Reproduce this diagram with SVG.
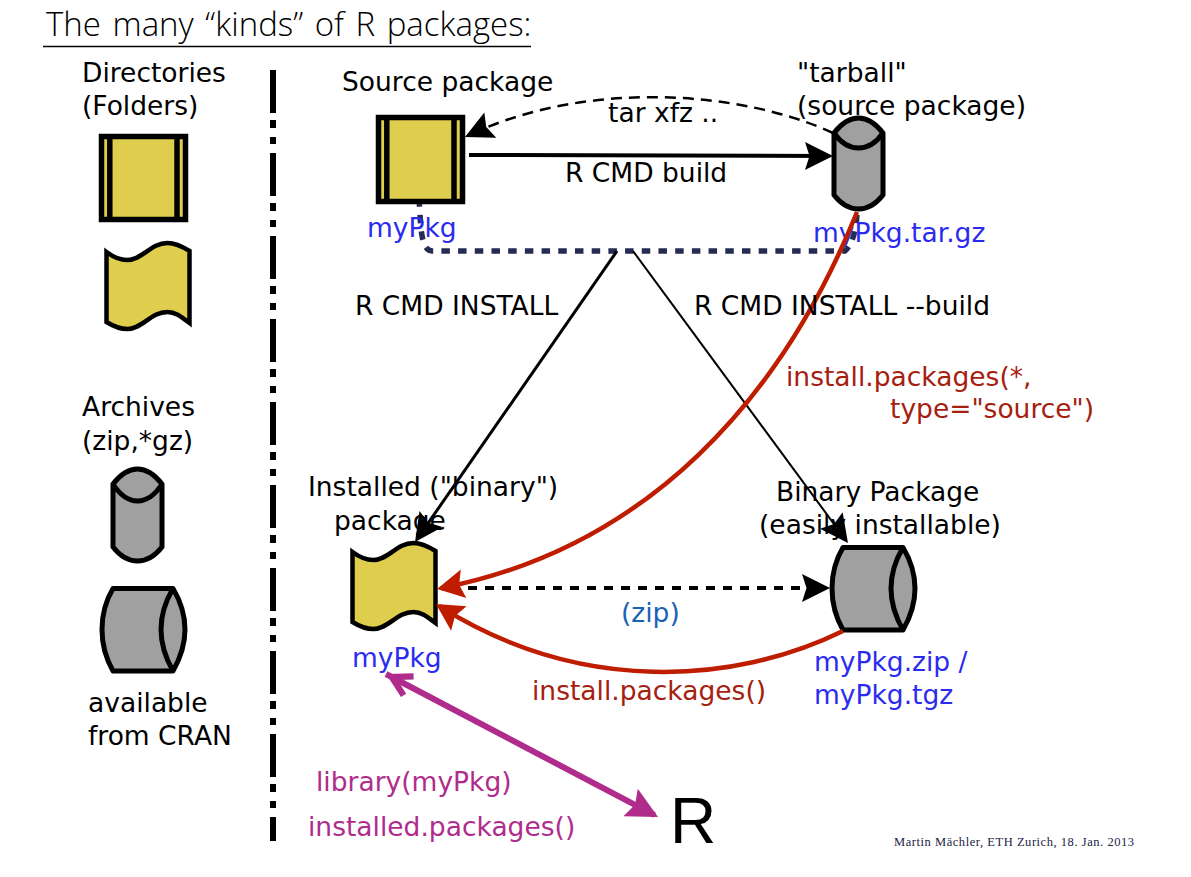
<svg xmlns="http://www.w3.org/2000/svg" width="1191" height="877" viewBox="0 0 1191 877">
<style>
text{font-family:"DejaVu Sans",sans-serif;font-size:26.5px;fill:#000}
.title{font-family:"Open Sans","Liberation Sans",sans-serif;font-weight:300;font-size:33px;word-spacing:3px}
.foot{font-family:"Liberation Serif",serif;font-size:12.5px;fill:#222244}
.blue{fill:#2b2bef}.red{fill:#a5200f}.pur{fill:#b02c8c}.zip{fill:#1a62b8}
.y{fill:#dfce4e;stroke:#000}
.g{fill:#a0a0a0;stroke:#000;stroke-width:5;stroke-linejoin:round}
</style>
<defs>
<marker id="ak" markerUnits="userSpaceOnUse" markerWidth="44" markerHeight="44" refX="34" refY="22" orient="auto"><path d="M38,22L10,8L14.500,22L10,36z" fill="#000"/></marker>
<marker id="ar" markerUnits="userSpaceOnUse" markerWidth="44" markerHeight="44" refX="34" refY="22" orient="auto"><path d="M38,22L11,7.500L15.500,22L11,36.500z" fill="#bf1d00"/></marker>
<marker id="ap" markerUnits="userSpaceOnUse" markerWidth="44" markerHeight="44" refX="34" refY="22" orient="auto"><path d="M38,22L7,6.500L12,22L7,37.500z" fill="#b02c8c"/></marker>
<marker id="apr" markerUnits="userSpaceOnUse" markerWidth="44" markerHeight="44" refX="4" refY="22" orient="auto"><path d="M4,22L28,8.500L31,14L17,22L31,30L28,35.500z" fill="#b02c8c"/></marker>
<path id="wave" d="M0,11C8,17 14,19 21,19C36,19 44,2 61,2C69,2 75,5 83,10V82C75,76 69,71 61,71C44,71 36,88 21,88C14,88 8,86 0,81z"/>
</defs>

<text class="title" x="46" y="36">The many “kinds” of R packages:</text>
<line x1="43" y1="46.500" x2="531" y2="46.500" stroke="#000" stroke-width="1.500"/>
<line x1="273" y1="70" x2="273" y2="841" stroke="#000" stroke-width="6" stroke-dasharray="43 7 8 9 7 9"/>

<g id="connectors" fill="none">
<path d="M419,198C421,225 420,250 432,251H845C852,245 857,230 857,210" stroke="#252c54" stroke-width="5.500" stroke-dasharray="8.500 8.200"/>
<path d="M833,133C745,92 590,78 468.600,135.300" stroke="#000" stroke-width="2.500" stroke-dasharray="11 7" marker-end="url(#ak)"/>
<path d="M469,155L829,156" stroke="#000" stroke-width="4" marker-end="url(#ak)"/>
<path d="M617,251L417.300,538.700" stroke="#000" stroke-width="3" marker-end="url(#ak)"/>
<path d="M633,251L845.600,539.800" stroke="#000" stroke-width="2" marker-end="url(#ak)"/>
<path d="M468,588H826" stroke="#000" stroke-width="4" stroke-dasharray="9 8" marker-end="url(#ak)"/>
<path d="M386,674L654.500,815.100" stroke="#b02c8c" stroke-width="6" marker-start="url(#apr)" marker-end="url(#ap)"/>
</g>

<g id="legend-folder">
<rect x="101.500" y="136.500" width="84" height="83" class="y" stroke-width="5.500"/>
<path d="M109.800,136V221M177,136V221" stroke="#000" stroke-width="5.500"/>
</g>
<g id="legend-wave"><use href="#wave" x="106.500" y="241" class="y" stroke-width="4.500"/></g>
<g id="legend-cyl-v">
<path d="M113,484C120,475 128,469 137.500,469C147,469 155,475 162,484V547C155,556 147,561 137.500,561C128,561 120,556 113,547z" class="g"/>
<path d="M113,484C120,495 128,501 137.500,501C147,501 155,495 162,484" class="g"/>
</g>
<g id="legend-cyl-h">
<path d="M113,588.500H173C181,602 185,615 185,629.500C185,644 181,657 173,671H113C105,657 102,644 102,629.500C102,615 105,602 113,588.500z" class="g"/>
<path d="M173,588.500C165,602 161,615 161,629.500C161,644 165,657 173,671" class="g"/>
</g>
<text x="82" y="82">Directories</text>
<text x="82" y="115">(Folders)</text>
<text x="82" y="416">Archives</text>
<text x="82" y="450">(zip,*gz)</text>
<text x="88" y="712">available</text>
<text x="88" y="745">from CRAN</text>

<g id="source-package">
<rect x="378.500" y="117.500" width="84" height="84" class="y" stroke-width="5.500"/>
<path d="M386.800,117V204M454,117V204" stroke="#000" stroke-width="5.500"/>
<text x="342" y="91">Source package</text>
<text x="367" y="237" class="blue">myPkg</text>
</g>
<g id="tarball">
<path d="M834,133C841,124 849,118 858.500,118C868,118 876,124 883,133V195C876,204 868,209 858.500,209C849,209 841,204 834,195z" class="g"/>
<path d="M834,133C841,143 849,148 858.500,148C868,148 876,143 883,133" class="g"/>
<text x="797" y="82">"tarball"</text>
<text x="797" y="115">(source package)</text>
<text x="813" y="242" class="blue">myPkg.tar.gz</text>
</g>
<g id="installed-package">
<use href="#wave" x="352.500" y="541" class="y" stroke-width="4.500"/>
<text x="308" y="496">Installed ("binary")</text>
<text x="334" y="530">package</text>
<text x="352" y="667" class="blue">myPkg</text>
</g>
<g id="binary-package">
<path d="M843,547.500H903C911,561 915,574 915,588.500C915,603 911,616 903,630H843C835,616 832,603 832,588.500C832,574 835,561 843,547.500z" class="g"/>
<path d="M903,547.500C895,561 891,574 891,588.500C891,603 895,616 903,630" class="g"/>
<text x="776" y="501">Binary Package</text>
<text x="759" y="534">(easily installable)</text>
<text x="814" y="671" class="blue">myPkg.zip /</text>
<text x="814" y="704" class="blue">myPkg.tgz</text>
</g>
<g id="r-node"><text x="670" y="843" style="font-family:'Liberation Sans',sans-serif;font-size:64px">R</text></g>

<g id="red-connectors" fill="none">
<path d="M857,212C782,398 648,548 441,588.200" stroke="#bf1d00" stroke-width="4.500" marker-end="url(#ar)"/>
<path d="M843,631C735,684 580,695 439.400,606.100" stroke="#bf1d00" stroke-width="4.500" marker-end="url(#ar)"/>
</g>

<g id="labels">
<text x="608" y="122">tar xfz ..</text>
<text x="565" y="182">R CMD build</text>
<text x="355" y="315">R CMD INSTALL</text>
<text x="694" y="315">R CMD INSTALL --build</text>
<text x="786" y="386" class="red">install.packages(*,</text>
<text x="890" y="418" class="red">type="source")</text>
<text x="621" y="622" class="zip">(zip)</text>
<text x="532" y="700" class="red">install.packages()</text>
<text x="316" y="791" class="pur">library(myPkg)</text>
<text x="308" y="836" class="pur">installed.packages()</text>
<text class="foot" x="894" y="846" textLength="240">Martin Mächler, ETH Zurich, 18. Jan. 2013</text>
</g>
</svg>
